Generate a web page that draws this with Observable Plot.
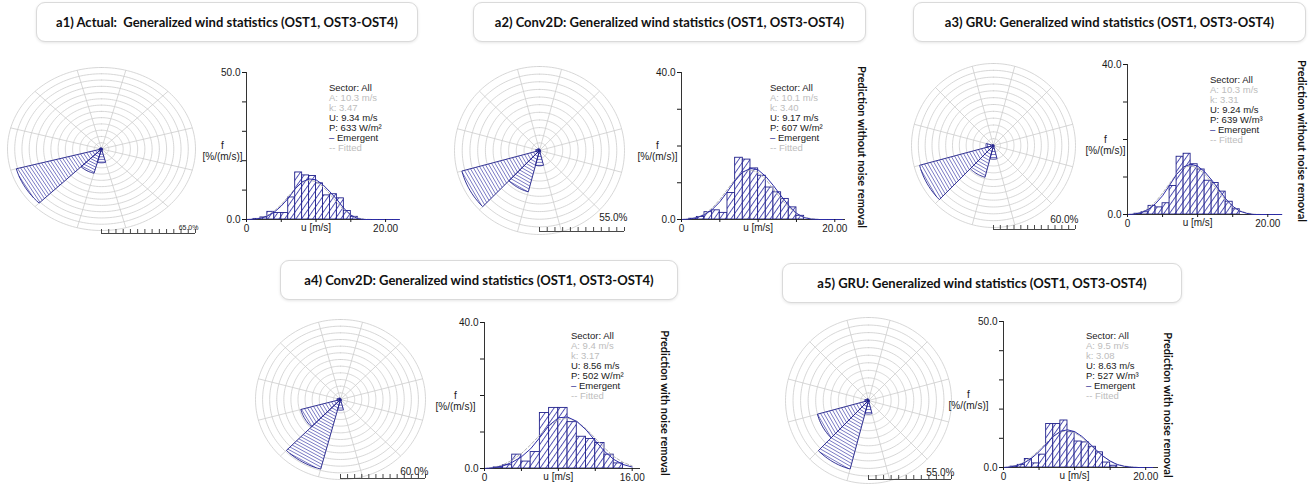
<!DOCTYPE html>
<html>
<head>
<meta charset="utf-8">
<script src="https://cdn.jsdelivr.net/npm/d3@7"></script>
<script src="https://cdn.jsdelivr.net/npm/@observablehq/plot@0.6"></script>
<style>
  html, body { margin: 0; padding: 0; background: #fff; }
  #page { position: relative; width: 1312px; height: 485px; overflow: hidden;
          font-family: "Liberation Sans", Arial, sans-serif; color: #1a1a1a; }
  .title { position: absolute; box-sizing: border-box; border: 1px solid #dadada; border-radius: 9px;
           box-shadow: 0 1px 3px rgba(0,0,0,0.10); display: flex; align-items: center; justify-content: center;
           font: bold 13px Lato, sans-serif; white-space: pre; color: #111; background: #fff; }
  .side { position: absolute; writing-mode: vertical-rl; transform: translate(-50%, -50%);
          font: bold 11px Lato, sans-serif; white-space: nowrap; color: #111; }
  .stats { position: absolute; font-size: 9.5px; line-height: 10px; white-space: nowrap; color: #1a1a1a; }
  .stats .muted { color: #bdbdbd; }
  .stats .em { color: #22228c; }
  .chart { position: absolute; }
</style>
</head>
<body>
<svg width="0" height="0" style="position:absolute">
  <defs>
    <pattern id="barHatch" patternUnits="userSpaceOnUse" width="4.6" height="4.6" patternTransform="rotate(35)">
      <rect width="4.6" height="4.6" fill="#ffffff"></rect>
      <line x1="0.5" y1="0" x2="0.5" y2="4.6" stroke="#4343ad" stroke-width="0.9"></line>
    </pattern>
  </defs>
</svg>
<div id="page"></div>
<script>
// ---- sector directions (deg, clockwise from north) ----
const sectorCentres = [0, 30, 60, 90, 120, 150, 180, 210, 240, 270, 300, 330];

// ---- wind rose frequencies (%) per sector ----
const roseA1 = [0.8, 0.6, 0.5, 0.6, 0.8, 1.0, 11, 20, 61, 1.5, 1.2, 1.0];
const roseA2 = [0.8, 0.6, 0.5, 0.6, 0.8, 1.2, 10, 28, 52, 2.5, 1.5, 1.5];
const roseA3 = [0.5, 0.4, 0.3, 0.4, 0.5, 0.8, 10, 24, 56, 5.5, 1.0, 0.6];
const roseA4 = [0.6, 0.5, 0.4, 0.5, 0.6, 1.0, 8, 54, 29, 2.5, 1.5, 1.4];
const roseA5 = [0.6, 0.5, 0.4, 0.5, 0.6, 1.0, 9, 47, 35, 2.5, 1.5, 1.4];
const roseScaleMax = [65, 55, 60, 60, 55];

// ---- wind speed histograms: frequency (%/(m/s)) of 1 m/s bins starting at 0 m/s ----
const binsA1 = [0, 0.2, 0.7, 2.6, 2.2, 2.2, 7.5, 16.0, 15.0, 14.8, 12.3, 8.2, 8.6, 7.2, 2.9, 0.9];
const binsA2 = [0, 0.2, 0.7, 2.0, 2.5, 1.8, 7.2, 16.8, 16.3, 13.9, 11.9, 8.7, 7.4, 5.6, 3.3, 1.0];
const binsA3 = [0, 0.2, 0.6, 2.3, 1.9, 3.0, 7.6, 15.4, 16.2, 13.4, 12.0, 9.0, 8.4, 6.1, 3.4, 1.4];
const binsA4 = [0, 0.3, 0.9, 3.8, 1.9, 4.5, 15.2, 16.6, 16.6, 12.7, 8.7, 8.1, 7.0, 3.8, 1.4];
const binsA5 = [0, 0.3, 0.9, 2.9, 1.4, 4.4, 14.9, 14.9, 16.1, 12.1, 8.9, 8.6, 7.1, 5.2, 1.7, 0.6];

// ---- emergent distributions, sampled at whole m/s from 0 ----
const emergentA1 = [0, 0.1, 0.4, 1.2, 2.5, 4.6, 7.2, 10.4, 12.8, 13.8, 13.5, 11.8, 9.4, 6.8, 3.8, 1.5, 0.3, 0, 0, 0, 0, 0, 0];
const emergentA2 = [0, 0.1, 0.5, 1.3, 2.7, 4.8, 7.6, 10.6, 12.9, 13.9, 13.5, 11.7, 9.2, 6.4, 3.8, 1.7, 0.5, 0.1, 0, 0, 0, 0];
const emergentA3 = [0, 0.1, 0.5, 1.4, 2.9, 5.0, 7.8, 10.7, 12.7, 13.4, 12.9, 11.4, 9.2, 6.7, 4.2, 2.2, 0.9, 0.3, 0, 0, 0, 0, 0];
const emergentA4 = [0, 0.2, 0.7, 1.7, 3.2, 5.4, 8.5, 11.8, 13.9, 14.1, 12.9, 10.6, 7.6, 4.7, 2.5, 1.1, 0.4];
const emergentA5 = [0, 0.2, 0.7, 1.7, 3.3, 5.4, 8.0, 10.6, 12.4, 12.9, 12.3, 10.7, 8.5, 6.1, 3.9, 2.2, 1.0, 0.4, 0.1, 0, 0, 0];

// ---- fitted (Weibull) distributions, sampled at whole m/s from 0 ----
const fittedA1 = [0, 0.1, 0.5, 1.4, 2.9, 5.1, 7.8, 10.6, 12.6, 13.4, 12.9, 11.2, 8.6, 5.8, 3.3, 1.5, 0.5, 0.1, 0];
const fittedA2 = [0, 0.1, 0.5, 1.5, 3.1, 5.4, 8.2, 11.0, 12.9, 13.5, 12.8, 10.9, 8.3, 5.6, 3.3, 1.6, 0.6, 0.2, 0];
const fittedA3 = [0, 0.1, 0.6, 1.7, 3.4, 5.7, 8.3, 10.8, 12.5, 13.0, 12.4, 10.8, 8.5, 6.0, 3.8, 2.1, 1.0, 0.4, 0.1, 0];
const fittedA4 = [0, 0.3, 1.0, 2.3, 4.1, 6.5, 9.2, 11.7, 13.4, 13.8, 12.9, 10.9, 8.3, 5.6, 3.3, 1.7, 0.7];
const fittedA5 = [0, 0.2, 0.8, 2.0, 3.7, 5.9, 8.4, 10.7, 12.2, 12.6, 11.9, 10.3, 8.2, 5.9, 3.8, 2.2, 1.1, 0.5, 0.2, 0];

const histYMax = [50, 40, 40, 40, 50];
const histXTicks = [[0, 5, 10, 15, 20], [0, 5, 10, 15, 20], [0, 5, 10, 15, 20], [0, 4, 8, 12, 16], [0, 5, 10, 15, 20]];

// ---- text ----
const panelTitles = [
  "a1) Actual:  Generalized wind statistics (OST1, OST3-OST4)",
  "a2) Conv2D: Generalized wind statistics (OST1, OST3-OST4)",
  "a3) GRU: Generalized wind statistics (OST1, OST3-OST4)",
  "a4) Conv2D: Generalized wind statistics (OST1, OST3-OST4)",
  "a5) GRU: Generalized wind statistics (OST1, OST3-OST4)"
];
const sideLabels = [null, "Prediction without noise removal", "Prediction without noise removal",
                    "Prediction with noise removal", "Prediction with noise removal"];
const weibullA = ["10.3", "10.1", "10.3", "9.4", "9.5"];
const weibullK = ["3.47", "3.40", "3.31", "3.17", "3.08"];
const meanSpeed = ["9.34", "9.17", "9.24", "8.56", "8.63"];
const powerDensity = ["633", "607", "639", "502", "527"];
const powerUnit = ["W/m²", "W/m²", "W/m³", "W/m²", "W/m³"];

// ---- page layout (pixels) ----
const layout = [
  { title: {x: 36, y: 2, w: 382, h: 40},
    rose: {cx: 101, cy: 148.5, rx: 94, ry: 81.5, barY: 233, labelDy: -6, labelSize: 7},
    hist: {left: 246, top: 72, w: 153, h: 147, xMax: 22, fdx: -24},
    stats: {x: 329, y: 83}, side: null },
  { title: {x: 473, y: 2, w: 393, h: 40},
    rose: {cx: 539, cy: 150, rx: 85, ry: 84, barY: 231, labelDy: -14, labelSize: 10},
    hist: {left: 681, top: 72, w: 164, h: 147, xMax: 21.4, fdx: -24},
    stats: {x: 770, y: 83}, side: {x: 862, y: 147} },
  { title: {x: 913, y: 2, w: 393, h: 40},
    rose: {cx: 993, cy: 145, rx: 82, ry: 82, barY: 229, labelDy: -10, labelSize: 10},
    hist: {left: 1127, top: 64, w: 155, h: 150, xMax: 22.1, fdx: -22},
    stats: {x: 1210, y: 75}, side: {x: 1302, y: 141} },
  { title: {x: 280, y: 260, w: 398, h: 40},
    rose: {cx: 340, cy: 399, rx: 85, ry: 80, barY: 478, labelDy: -7, labelSize: 10},
    hist: {left: 484, top: 322, w: 156, h: 146, xMax: 16.9, fdx: -29},
    stats: {x: 571, y: 331}, side: {x: 665, y: 403} },
  { title: {x: 782, y: 263, w: 400, h: 40},
    rose: {cx: 868, cy: 400, rx: 83, ry: 83, barY: 479, labelDy: -7, labelSize: 10},
    hist: {left: 1003, top: 321, w: 155, h: 146, xMax: 21.8, fdx: -35},
    stats: {x: 1086, y: 331}, side: {x: 1168, y: 405} }
];

const roses = [roseA1, roseA2, roseA3, roseA4, roseA5];
const bins = [binsA1, binsA2, binsA3, binsA4, binsA5];
const emergent = [emergentA1, emergentA2, emergentA3, emergentA4, emergentA5];
const fitted = [fittedA1, fittedA2, fittedA3, fittedA4, fittedA5];

const navy = "#22228c";
const hatchBlue = "#4040aa";
const gridGrey = "#cdcdcd";
const rad = a => a * Math.PI / 180;
const page = document.getElementById("page");

function place(el, left, top) {
  el.classList.add("chart");
  el.style.left = left + "px";
  el.style.top = top + "px";
  page.appendChild(el);
}

// Wind rose: 12 hatched sectors on a polar grid with 5 % rings, plus a scale bar
function drawRose(freqs, R, L) {
  const m = 4;
  const barDy = L.barY - (L.cy + L.ry);
  const mb = Math.max(m, barDy + 4);
  const unit = R / L.rx;                      // data units per pixel
  const rings = d3.range(5, R + 1e-6, 5).flatMap(r => d3.range(0, 361, 2).map(a => ({r, a})));
  const spokes = d3.range(15, 360, 30);
  const sectors = sectorCentres.map((dir, i) => ({dir, f: freqs[i]}));
  const outline = sectors.flatMap(s => [
    {dir: s.dir, r: 0, a: s.dir},
    ...d3.range(-15, 15.001, 2.5).map(o => ({dir: s.dir, r: s.f, a: s.dir + o})),
    {dir: s.dir, r: 0, a: s.dir}
  ]);
  const step = 3 * unit;
  const chords = sectors.flatMap(s => d3.range(step, s.f, step).map(d => ({
    t: rad(s.dir), d, w: Math.min(d * Math.tan(rad(15)), Math.sqrt(s.f * s.f - d * d))
  })));
  const scaleTicks = d3.range(0, R + 1e-6, 5);
  const tickRise = 4 * R / L.ry;

  const svg = Plot.plot({
    width: 2 * L.rx + 2 * m,
    height: 2 * L.ry + m + mb,
    marginLeft: m, marginRight: m, marginTop: m, marginBottom: mb,
    x: {domain: [-R, R], axis: null},
    y: {domain: [-R, R], axis: null},
    style: {background: "transparent", overflow: "visible", fontFamily: "'Liberation Sans', Arial, sans-serif"},
    marks: [
      Plot.line(rings, {x: d => d.r * Math.sin(rad(d.a)), y: d => d.r * Math.cos(rad(d.a)), z: "r",
                        stroke: gridGrey, strokeWidth: 0.8}),
      Plot.link(spokes, {x1: () => 0, y1: () => 0, x2: a => R * Math.sin(rad(a)), y2: a => R * Math.cos(rad(a)),
                         stroke: gridGrey, strokeWidth: 0.8}),
      Plot.line(outline, {x: d => d.r * Math.sin(rad(d.a)), y: d => d.r * Math.cos(rad(d.a)), z: "dir",
                          fill: "white", stroke: "none", curve: "linear"}),
      Plot.link(chords, {
        x1: c => c.d * Math.sin(c.t) + c.w * Math.cos(c.t), y1: c => c.d * Math.cos(c.t) - c.w * Math.sin(c.t),
        x2: c => c.d * Math.sin(c.t) - c.w * Math.cos(c.t), y2: c => c.d * Math.cos(c.t) + c.w * Math.sin(c.t),
        stroke: hatchBlue, strokeWidth: 0.7}),
      Plot.line(outline, {x: d => d.r * Math.sin(rad(d.a)), y: d => d.r * Math.cos(rad(d.a)), z: "dir",
                          fill: "none", stroke: navy, strokeWidth: 0.9}),
      Plot.ruleY([-R], {x1: () => 0, x2: () => R, dy: barDy, stroke: "#333", strokeWidth: 0.9}),
      Plot.ruleX(scaleTicks, {x: d => d, y1: () => -R, y2: () => -R + tickRise, dy: barDy, stroke: "#333", strokeWidth: 0.9}),
      Plot.text([`${R.toFixed(1)}%`], {x: () => R, y: () => -R, dx: 3, dy: barDy + L.labelDy,
                                      textAnchor: "end", fontSize: L.labelSize, fill: "#222"})
    ]
  });
  place(svg, L.cx - L.rx - m, L.cy - L.ry - m);
}

// Speed histogram with emergent and fitted distributions
function drawHist(b, em, fit, yMax, xTicks, L) {
  const ml = 50, mr = 6, mt = 8, mb = 20;
  const last = xTicks[xTicks.length - 1];
  const svg = Plot.plot({
    width: ml + L.w + mr,
    height: mt + L.h + mb,
    marginLeft: ml, marginRight: mr, marginTop: mt, marginBottom: mb,
    x: {domain: [0, L.xMax]},
    y: {domain: [0, yMax]},
    style: {background: "transparent", overflow: "visible", fontSize: "10px",
            fontFamily: "'Liberation Sans', Arial, sans-serif", color: "#1a1a1a"},
    marks: [
      Plot.rectY(b, {x1: (d, i) => i, x2: (d, i) => i + 1, y1: () => 0, y2: d => d, inset: 0,
                     fill: "url(#barHatch)", stroke: navy, strokeWidth: 0.9}),
      Plot.line(fit, {x: (d, i) => i, y: d => d, stroke: "#b5b5b5", strokeWidth: 1, strokeDasharray: "3,2"}),
      Plot.ruleY([0], {stroke: "#333", strokeWidth: 1}),
      Plot.ruleX([0], {stroke: "#333", strokeWidth: 1}),
      Plot.line(em, {x: (d, i) => i, y: d => d, stroke: "#2c2ca6", strokeWidth: 1}),
      Plot.axisY({ticks: d3.range(0, yMax + 1e-6, 10), tickSize: 4, tickPadding: 2,
                  tickFormat: d => (d === 0 || d === yMax) ? d.toFixed(1) : ""}),
      Plot.axisX({ticks: xTicks, tickSize: 3, tickPadding: 2, label: null,
                  tickFormat: d => d === 0 ? "0" : d === last ? d.toFixed(2) : ""}),
      Plot.text(["u [m/s]"], {x: () => xTicks[2], frameAnchor: "bottom", dy: 11, textAnchor: "middle"}),
      Plot.text(["f"], {frameAnchor: "left", dx: L.fdx, dy: 0, textAnchor: "middle"}),
      Plot.text(["[%/(m/s)]"], {frameAnchor: "left", dx: L.fdx, dy: 11, textAnchor: "middle"})
    ]
  });
  place(svg, L.left - ml, L.top - mt);
}

function drawStats(i, L) {
  const div = document.createElement("div");
  div.className = "stats";
  div.style.left = L.x + "px";
  div.style.top = L.y + "px";
  div.innerHTML =
    `<div>Sector: All</div>` +
    `<div class="muted">A: ${weibullA[i]} m/s</div>` +
    `<div class="muted">k: ${weibullK[i]}</div>` +
    `<div>U: ${meanSpeed[i]} m/s</div>` +
    `<div>P: ${powerDensity[i]} ${powerUnit[i]}</div>` +
    `<div><span class="em">–</span> Emergent</div>` +
    `<div class="muted">-- Fitted</div>`;
  page.appendChild(div);
}

layout.forEach((L, i) => {
  const t = document.createElement("div");
  t.className = "title";
  t.style.left = L.title.x + "px";
  t.style.top = L.title.y + "px";
  t.style.width = L.title.w + "px";
  t.style.height = L.title.h + "px";
  t.textContent = panelTitles[i];
  page.appendChild(t);

  drawRose(roses[i], roseScaleMax[i], L.rose);
  drawHist(bins[i], emergent[i], fitted[i], histYMax[i], histXTicks[i], L.hist);
  drawStats(i, L.stats);

  if (sideLabels[i]) {
    const s = document.createElement("div");
    s.className = "side";
    s.style.left = L.side.x + "px";
    s.style.top = L.side.y + "px";
    s.textContent = sideLabels[i];
    page.appendChild(s);
  }
});
</script>
</body>
</html>
